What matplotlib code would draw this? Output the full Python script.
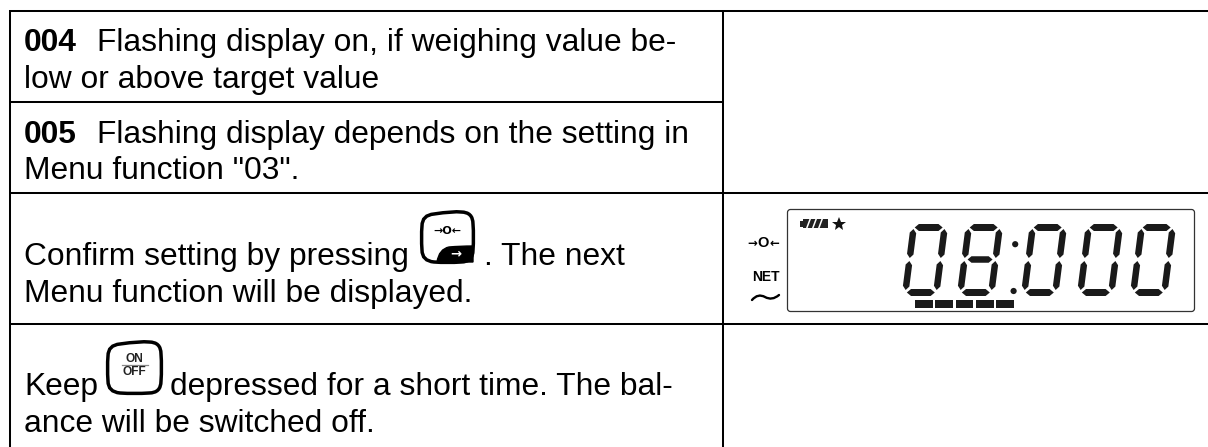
import matplotlib
matplotlib.use("Agg")
import matplotlib.pyplot as plt
from matplotlib.patches import FancyBboxPatch, Polygon, Circle, Rectangle, PathPatch
from matplotlib.path import Path
import numpy as np

W, H = 1208, 447
FONT = "Liberation Sans"
FS = 22.9

# ---- content ----
row_lines = [10.8, 101.8, 193, 323.5]
text_runs = [
    (24, 51, "004", "bold"),
    (97, 51, "Flashing display on, if weighing value be-", "normal"),
    (24, 88, "low or above target value", "normal"),
    (24, 143, "005", "bold"),
    (97, 143, "Flashing display depends on the setting in", "normal"),
    (24, 179, 'Menu function "03".', "normal"),
    (24, 265, "Confirm setting by pressing", "normal"),
    (484, 265, ". The next", "normal"),
    (24, 302, "Menu function will be displayed.", "normal"),
    (24, 395, "Keep", "normal"),
    (170, 395, "depressed for a short time. The bal-", "normal"),
    (24, 432, "ance will be switched off.", "normal"),
]
display_digits = ["0", "8", "0", "0", "0"]
digit_x = [902, 957, 1021, 1077, 1130]
segments_on = {
    "0": "abcdef",
    "8": "abcdefg",
}
bar_x = [915, 935, 955.5, 975.7, 995.7]

fig = plt.figure(figsize=(W / 100, H / 100), dpi=100)
ax = fig.add_axes([0, 0, 1, 1])
ax.set_xlim(0, W)
ax.set_ylim(H, 0)
ax.axis("off")

# ---- table grid ----
LW = 1.45
K = "#000000"
ax.plot([8.7, W], [row_lines[0]] * 2, color=K, lw=LW, solid_capstyle="butt")
ax.plot([8.7, 723], [row_lines[1]] * 2, color=K, lw=LW, solid_capstyle="butt")
for y in row_lines[2:]:
    ax.plot([8.7, W], [y, y], color=K, lw=LW, solid_capstyle="butt")
ax.plot([9.7, 9.7], [10, H], color=K, lw=LW, solid_capstyle="butt")
ax.plot([722.8, 722.8], [10, H], color=K, lw=LW, solid_capstyle="butt")

# ---- text ----
for x, y, s, w in text_runs:
    ax.text(x, y, s, family=FONT, fontsize=FS, fontweight=w, va="baseline", ha="left", color="#000000")


# ---- keys ----
def rounded_key(x0, y0, x1, y1, lw, rr=12):
    verts = [
        (x0 + rr, y0 + 2), ((x0 + x1) / 2 + 6, y0 - 1), (x1 - rr, y0),
        (x1, y0), (x1, y0 + rr),
        (x1 + 1, (y0 + y1) / 2), (x1, y1 - rr),
        (x1, y1), (x1 - rr, y1),
        ((x0 + x1) / 2, y1 + 1), (x0 + rr, y1),
        (x0, y1 - 1), (x0, y1 - rr),
        (x0 - 1, (y0 + y1) / 2), (x0, y0 + rr + 2),
        (x0, y0 + 3), (x0 + rr, y0 + 2),
    ]
    codes = [Path.MOVETO] + [Path.CURVE3] * 16
    ax.add_patch(PathPatch(Path(verts, codes), fc="white", ec="black", lw=lw, zorder=3))


rounded_key(422, 212, 473, 262, 2.5)
blk = Path(
    [(437, 262), (439, 249), (449, 247), (460, 246), (473, 246), (473, 262), (437, 262)],
    [Path.MOVETO, Path.CURVE3, Path.CURVE3, Path.CURVE3, Path.LINETO, Path.LINETO, Path.CLOSEPOLY],
)
ax.add_patch(PathPatch(blk, fc="black", ec="black", lw=1, zorder=4))
ax.text(447.5, 231.5, "→O←", family="DejaVu Sans", fontsize=8, fontweight="bold", ha="center", va="center", zorder=5)
ax.text(456, 254, "→", family="DejaVu Sans", fontsize=9.5, fontweight="bold", color="white", ha="center", va="center", zorder=5)

rounded_key(108, 342, 161, 393, 2.5)
ax.text(134.5, 358.5, "ON", family=FONT, fontsize=8.6, fontweight="bold", ha="center", va="center", color="#222222", zorder=5)
ax.plot([122, 148], [364.5, 364.5], color="#888888", lw=0.9, zorder=5)
ax.text(134.5, 372, "OFF", family=FONT, fontsize=8.6, fontweight="bold", ha="center", va="center", color="#222222", zorder=5)

# ---- display frame ----
ax.add_patch(FancyBboxPatch((787.5, 209.5), 407, 102, boxstyle="round,pad=0,rounding_size=3", fc="white", ec="#333333", lw=0.9))
# left legends
ax.text(752, 243, "→", family="DejaVu Sans", fontsize=8.5, fontweight="bold", ha="center", va="center")
ax.text(763, 243.3, "O", family=FONT, fontsize=10.5, fontweight="bold", ha="center", va="center")
ax.text(774, 243, "←", family="DejaVu Sans", fontsize=8.5, fontweight="bold", ha="center", va="center")
ax.text(765.5, 277, "NET", family=FONT, fontsize=10, fontweight="bold", ha="center", va="center")
tilde = Path([(752, 300), (758, 293), (765, 297), (772, 301), (779, 295)],
             [Path.MOVETO, Path.CURVE3, Path.CURVE3, Path.CURVE3, Path.CURVE3])
ax.add_patch(PathPatch(tilde, fc="none", ec="black", lw=1.7, capstyle="round"))

# battery + star
ax.add_patch(Rectangle((803, 218.5), 25, 9.5, fc="#222222", ec="none"))
ax.add_patch(Rectangle((800, 220.5), 3, 6, fc="#222222", ec="none"))
for sx in [807, 813, 819]:
    ax.plot([sx, sx + 3], [227.5, 219.5], color="white", lw=1.1)
ax.plot([838.5], [224], marker="*", ms=10.5, color="#111111", mew=0)


# ---- seven-segment digits ----
def seg(p, q, t):
    p, q = np.array(p, float), np.array(q, float)
    d = (q - p) / np.linalg.norm(q - p)
    n = np.array([-d[1], d[0]])
    k = t * 0.6
    pts = [p, p + d * k + n * t / 2, q - d * k + n * t / 2, q, q - d * k - n * t / 2, p + d * k - n * t / 2]
    ax.add_patch(Polygon(pts, closed=True, fc="#1a1a1a", ec="none"))


def digit(x, ch):
    w, top, bot = 31.0, 225.0, 295.0
    sk = 9.0

    def X(xx, y):
        return x + 3 + xx + sk * (bot - y) / (bot - top)

    S = {
        "a": ((X(1.0, 227.5), 227.5), (X(w - 2, 227.5), 227.5), 7.0),
        "d": ((X(1.5, 292.5), 292.5), (X(w - 1.5, 292.5), 292.5), 7.0),
        "g": ((X(3, 259.5), 259.5), (X(w - 3, 259.5), 259.5), 6.5),
        "f": ((X(0, 229), 229), (X(0, 258), 258), 6.5),
        "b": ((X(w, 229), 229), (X(w, 258), 258), 6.5),
        "e": ((X(0, 261), 261), (X(0, 290), 290), 6.5),
        "c": ((X(w, 261), 261), (X(w, 290), 290), 6.5),
    }
    for name in segments_on[ch]:
        seg(*S[name])


for x, ch in zip(digit_x, display_digits):
    digit(x, ch)

ax.add_patch(Circle((1015.2, 244.2), 3.1, fc="#1a1a1a", ec="none"))
ax.add_patch(Circle((1013.6, 291), 3.1, fc="#1a1a1a", ec="none"))
for bx in bar_x:
    ax.add_patch(Rectangle((bx, 300.2), 17.8, 7.4, fc="#1a1a1a", ec="none"))

fig.savefig("out.png", dpi=100, facecolor="white")
